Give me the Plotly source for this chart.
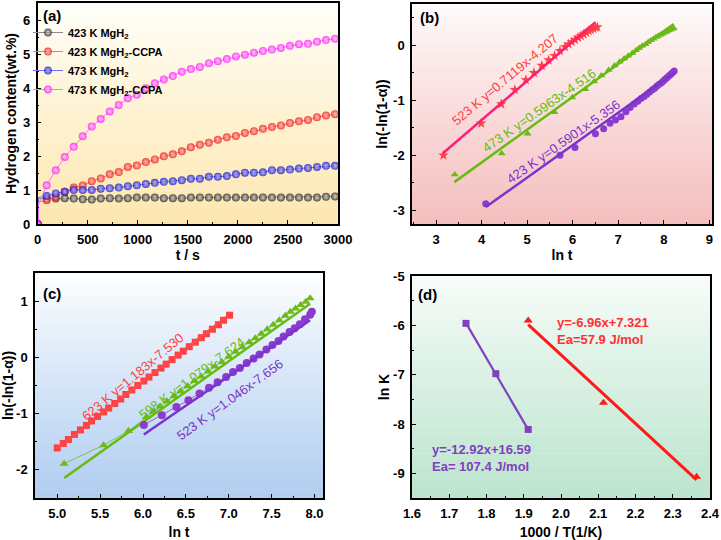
import plotly.graph_objects as go

# ---------------- DATA ----------------
# (a) hydrogen absorption curves
t_a = [0, 10, 90, 180, 270, 360, 450, 540, 630, 720, 810, 900, 990, 1080, 1170, 1260,
       1350, 1440, 1530, 1620, 1710, 1800, 1890, 1980, 2070, 2160, 2250, 2340, 2430,
       2520, 2610, 2700, 2790, 2880, 2970]
h_423 = [0, 0.76, 0.74, 0.75, 0.76, 0.75, 0.73, 0.72, 0.75, 0.76, 0.75, 0.76, 0.78, 0.78,
         0.78, 0.76, 0.76, 0.76, 0.78, 0.78, 0.78, 0.78, 0.78, 0.78, 0.78, 0.78, 0.78, 0.78,
         0.78, 0.78, 0.78, 0.78, 0.78, 0.80, 0.81]
h_423c = [0, 0.65, 0.70, 0.80, 0.95, 1.07, 1.13, 1.26, 1.34, 1.46, 1.53, 1.68, 1.72, 1.82,
          1.90, 1.99, 2.05, 2.14, 2.26, 2.33, 2.39, 2.48, 2.55, 2.59, 2.68, 2.73, 2.80, 2.85,
          2.90, 2.97, 3.02, 3.06, 3.14, 3.19, 3.23]
h_473 = [0, 0.78, 0.82, 0.90, 0.95, 1.00, 1.00, 1.00, 1.04, 1.05, 1.07, 1.11, 1.14, 1.18,
         1.21, 1.24, 1.26, 1.29, 1.33, 1.33, 1.39, 1.39, 1.41, 1.46, 1.51, 1.51, 1.52, 1.58,
         1.58, 1.60, 1.63, 1.65, 1.68, 1.71, 1.71]
h_473c = [0, 0.60, 1.14, 1.58, 1.97, 2.27, 2.58, 2.87, 3.09, 3.31, 3.50, 3.70, 3.80, 3.99,
          4.14, 4.25, 4.35, 4.48, 4.56, 4.62, 4.73, 4.79, 4.85, 4.93, 4.98, 5.04, 5.09, 5.13,
          5.18, 5.24, 5.29, 5.30, 5.36, 5.41, 5.45]
names_a = ["423 K MgH<sub>2</sub>", "423 K MgH<sub>2</sub>-CCPA",
           "473 K MgH<sub>2</sub>", "473 K MgH<sub>2</sub>-CCPA"]

# (b) JMAK plots, MgH2-CCPA
b523_x = [3.16, 3.99, 4.43, 4.73, 4.97, 5.15, 5.32, 5.47, 5.60, 5.72, 5.83, 5.91, 5.98,
          6.05, 6.12, 6.18, 6.24, 6.30, 6.35, 6.40, 6.45, 6.50, 6.54]
b523_y = [-2.00, -1.42, -1.07, -0.81, -0.63, -0.50, -0.37, -0.27, -0.19, -0.10, -0.03,
          0.02, 0.06, 0.10, 0.14, 0.17, 0.20, 0.23, 0.26, 0.28, 0.30, 0.32, 0.33]
b473_x = [3.41, 4.44, 5.01, 5.60, 5.99, 6.28, 6.47, 6.63, 6.79, 6.92, 7.03, 7.13, 7.22,
          7.31, 7.39, 7.46, 7.53, 7.60, 7.66, 7.72, 7.78, 7.83, 7.88, 7.93, 7.98, 8.03,
          8.07, 8.11, 8.15, 8.19, 8.22]
b473_y = [-2.35, -1.97, -1.61, -1.22, -0.95, -0.80, -0.66, -0.55, -0.45, -0.37, -0.30,
          -0.24, -0.19, -0.14, -0.09, -0.05, -0.01, 0.02, 0.06, 0.09, 0.12, 0.15, 0.17,
          0.19, 0.21, 0.23, 0.25, 0.27, 0.28, 0.30, 0.31]
b423_x = [4.09, 5.72, 6.05, 6.50, 6.68, 6.82, 6.94, 7.06, 7.17, 7.26, 7.35, 7.43, 7.50,
          7.57, 7.63, 7.69, 7.75, 7.80, 7.85, 7.90, 7.95, 7.99, 8.03, 8.07, 8.11, 8.15,
          8.19, 8.23]
b423_y = [-2.88, -2.00, -1.86, -1.61, -1.52, -1.42, -1.36, -1.30, -1.21, -1.13, -1.07,
          -1.02, -0.97, -0.93, -0.89, -0.85, -0.81, -0.78, -0.74, -0.71, -0.68, -0.65,
          -0.62, -0.59, -0.56, -0.53, -0.50, -0.47]
b_fit_slope = [0.7119, 0.5963, 0.5901]
b_fit_icpt = [-4.207, -4.516, -5.356]
b_fit_range = [[3.15, 6.50], [3.40, 8.22], [4.09, 8.23]]
b_labels = ["523 K y=0.7119x-4.207", "473 K y=0.5963x-4.516", "423 K y=0.5901x-5.356"]

# (c) JMAK plots, MgH2
c623_x = [5.00, 5.07, 5.13, 5.20, 5.27, 5.34, 5.40, 5.47, 5.54, 5.60, 5.67, 5.74, 5.80,
          5.87, 5.94, 6.01, 6.07, 6.14, 6.21, 6.27, 6.34, 6.41, 6.47, 6.54, 6.61, 6.68,
          6.74, 6.81, 6.88, 6.94, 7.01]
c623_y = [-1.61, -1.53, -1.46, -1.37, -1.29, -1.21, -1.13, -1.05, -0.97, -0.90, -0.82,
          -0.74, -0.66, -0.58, -0.50, -0.42, -0.35, -0.27, -0.19, -0.12, -0.04, 0.04,
          0.11, 0.19, 0.27, 0.35, 0.42, 0.50, 0.58, 0.66, 0.75]
c598_x = [5.08, 5.54, 5.83, 6.04, 6.12, 6.20, 6.28, 6.36, 6.44, 6.52, 6.60, 6.68, 6.76,
          6.84, 6.92, 7.00, 7.08, 7.16, 7.24, 7.31, 7.38, 7.45, 7.52, 7.59, 7.66, 7.72,
          7.78, 7.84, 7.90, 7.95]
c598_y = [-1.89, -1.56, -1.31, -1.06, -0.96, -0.87, -0.78, -0.69, -0.60, -0.51, -0.42,
          -0.34, -0.25, -0.16, -0.08, 0.01, 0.10, 0.18, 0.27, 0.34, 0.42, 0.50, 0.58,
          0.66, 0.74, 0.81, 0.87, 0.93, 0.99, 1.05]
c523_x = [6.01, 6.22, 6.39, 6.53, 6.66, 6.77, 6.87, 6.97, 7.05, 7.13, 7.21, 7.29, 7.36,
          7.44, 7.51, 7.58, 7.64, 7.71, 7.77, 7.83, 7.89, 7.95, 7.97]
c523_y = [-1.20, -1.03, -0.88, -0.76, -0.64, -0.54, -0.44, -0.35, -0.26, -0.19, -0.10,
          -0.02, 0.05, 0.14, 0.22, 0.29, 0.37, 0.45, 0.52, 0.59, 0.68, 0.76, 0.81]
c_fit_slope = [1.183, 1.079, 1.046]
c_fit_icpt = [-7.530, -7.624, -7.656]
c_fit_range = [[5.00, 7.00], [5.08, 7.95], [6.01, 7.95]]
c_labels = ["623 K y=1.183x-7.530", "598 K y=1.079x-7.624", "523 K y=1.046x-7.656"]

# (d) Arrhenius plots
d_mg_x = [1.745, 1.825, 1.912]
d_mg_y = [-5.96, -6.98, -8.11]
d_cc_x = [1.912, 2.114, 2.364]
d_cc_y = [-5.90, -7.57, -9.07]
d_fit_slope = [-12.92, -6.96]
d_fit_icpt = [16.59, 7.321]
d_labels = ["y=-12.92x+16.59<br>Ea= 107.4 J/mol", "y=-6.96x+7.321<br>Ea=57.9 J/mol"]

# tick labels
a_xt = [0, 500, 1000, 1500, 2000, 2500, 3000]
a_yt = [0, 1, 2, 3, 4, 5, 6]
b_xt = [3, 4, 5, 6, 7, 8, 9]
b_yt = [-3, -2, -1, 0]
c_xt = [5.0, 5.5, 6.0, 6.5, 7.0, 7.5, 8.0]
c_yt = [-2, -1, 0, 1]
d_xt = [1.6, 1.7, 1.8, 1.9, 2.0, 2.1, 2.2, 2.3, 2.4]
d_yt = [-9, -8, -7, -6, -5]

# ---------------- FIGURE ----------------
FONT = "Arial, Liberation Sans, sans-serif"
W, H = 721, 540
fig = go.Figure()


def dom_x(a, b):
    return [a / W, b / W]


def dom_y(top, bot):
    return [1 - bot / H, 1 - top / H]


def axis(rng, dom, tv, nd, minor_dt, title, standoff, anchor):
    return dict(
        range=rng, domain=dom, anchor=anchor, automargin=False,
        tickmode="array", tickvals=tv, ticktext=[f"{v:.{nd}f}" for v in tv],
        ticks="inside", ticklen=4, tickwidth=1.3, tickcolor="black",
        minor=dict(dtick=minor_dt, tick0=0, ticks="inside", ticklen=2, tickwidth=1,
                   tickcolor="black", showgrid=False),
        showline=True, linecolor="black", linewidth=1.5, mirror=True,
        showgrid=False, zeroline=False,
        tickfont=dict(family=FONT, size=13, color="black", weight="bold"),
        title=dict(text=title, standoff=standoff,
                   font=dict(family=FONT, size=14, color="black", weight="bold")),
        ticklabelstandoff=3,
    )


fig.update_layout(
    width=W, height=H, margin=dict(l=0, r=0, t=0, b=0, autoexpand=False),
    paper_bgcolor="white", plot_bgcolor="rgba(0,0,0,0)",
    xaxis=axis([0, 3000], dom_x(37.7, 338), a_xt, 0, 250, "t / s", 0, "y"),
    yaxis=axis([0, 6.5], dom_y(3, 224), a_yt, 0, 0.5, "Hydrogen content(wt.%)", 3, "x"),
    xaxis2=axis([2.47, 9.06], dom_x(412, 712), b_xt, 0, 0.5, "ln t", 4, "y2"),
    yaxis2=axis([-3.25, 0.75], dom_y(4, 224), b_yt, 0, 0.5, "ln(-ln(1-α))", 2, "x2"),
    xaxis3=axis([4.74, 8.1], dom_x(35, 323), c_xt, 1, 0.25, "ln t", 11, "y3"),
    yaxis3=axis([-2.5, 1.5], dom_y(273, 498), c_yt, 0, 0.5, "ln(-ln(1-α))", 6, "x3"),
    xaxis4=axis([1.6, 2.4], dom_x(412, 710), d_xt, 1, 0.05, "1000 / T(1/K)", 12, "y4"),
    yaxis4=axis([-9.5, -5], dom_y(276, 498), d_yt, 0, 0.5, "ln K", 0, "x4"),
    legend=dict(x=28 / W, y=1 - 18 / H, xanchor="left", yanchor="top",
                bgcolor="rgba(0,0,0,0)", itemwidth=30, tracegroupgap=0,
                font=dict(family=FONT, size=11, color="black", weight="bold")),
    showlegend=True,
)

# gradient backgrounds
grad = [
    ("x", "y", (255, 255, 250), (253, 231, 176)),
    ("x2", "y2", (255, 252, 252), (245, 190, 190)),
    ("x3", "y3", (255, 255, 255), (176, 205, 240)),
    ("x4", "y4", (248, 253, 250), (188, 228, 206)),
]
N = 40
for xr, yr, top, bot in grad:
    for i in range(N):
        f = (i + 0.5) / N  # 0 bottom -> 1 top
        w = (1 - f) ** 0.9
        c = tuple(int(round(top[k] + (bot[k] - top[k]) * w)) for k in range(3))
        fig.add_shape(type="rect", xref=f"{xr} domain", yref=f"{yr} domain",
                      x0=0, x1=1, y0=i / N, y1=(i + 1) / N + 0.002,
                      line=dict(width=0), fillcolor=f"rgb{c}", layer="below")

# (a)
a_series = [h_423, h_423c, h_473, h_473c]
a_mcol = ["#111111", "#ee0000", "#0000cc", "#ff00ff"]
a_gcol = ["#d0d0d0", "#ffc0c0", "#b0b0ff", "#ffc8ff"]
a_lcol = ["#8a8a8a", "#ff7070", "#7070ee", "#ff70ff"]
sizes = [8, 0] + [8] * (len(t_a) - 2)
for ys, mc, gc, lc, nm in zip(a_series, a_mcol, a_gcol, a_lcol, names_a):
    fig.add_trace(go.Scatter(
        x=t_a, y=ys, mode="lines+markers", name=nm, xaxis="x", yaxis="y",
        line=dict(color=lc, width=1),
        marker=dict(size=sizes, color=mc, line=dict(width=0),
                    gradient=dict(type="radial", color=gc)),
    ))

# (b)
b_sets = [(b523_x, b523_y, "#ff4040", "#ff1f78", "star", 8),
          (b473_x, b473_y, "#6dbb1a", "#66bb11", "triangle-up", 7),
          (b423_x, b423_y, "#8a3ccc", "#7a33cc", "circle", 7)]
for (xs, ys, mc, lc, sym, sz), s, c, r in zip(b_sets, b_fit_slope, b_fit_icpt, b_fit_range):
    fig.add_trace(go.Scatter(x=xs, y=ys, mode="markers", xaxis="x2", yaxis="y2",
                             marker=dict(symbol=sym, size=sz, color=mc), showlegend=False))
    fig.add_trace(go.Scatter(x=r, y=[s * v + c for v in r], mode="lines", xaxis="x2",
                             yaxis="y2", line=dict(color=lc, width=2.5), showlegend=False))

# (c)
c_sets = [(c623_x, c623_y, "#ff4040", "#ff4848", "square", 7),
          (c598_x, c598_y, "#6dbb1a", "#66bb11", "triangle-up", 8),
          (c523_x, c523_y, "#8a3ccc", "#7a33cc", "circle", 8)]
for (xs, ys, mc, lc, sym, sz), s, c, r in zip(c_sets, c_fit_slope, c_fit_icpt, c_fit_range):
    fig.add_trace(go.Scatter(x=xs, y=ys, mode="lines+markers", xaxis="x3", yaxis="y3",
                             line=dict(color=mc, width=0.8),
                             marker=dict(symbol=sym, size=sz, color=mc), showlegend=False))
    fig.add_trace(go.Scatter(x=r, y=[s * v + c for v in r], mode="lines", xaxis="x3",
                             yaxis="y3", line=dict(color=lc, width=2.5), showlegend=False))

# (d)
d_sets = [(d_mg_x, d_mg_y, "#8040c0", "square", 7, 2.2),
          (d_cc_x, d_cc_y, "#ff1a1a", "triangle-up", 8, 3)]
for (xs, ys, col, sym, sz, lw), s, c in zip(d_sets, d_fit_slope, d_fit_icpt):
    fig.add_trace(go.Scatter(x=[xs[0], xs[-1]], y=[s * xs[0] + c, s * xs[-1] + c],
                             mode="lines", xaxis="x4", yaxis="y4",
                             line=dict(color=col, width=lw), showlegend=False))
    fig.add_trace(go.Scatter(x=xs, y=ys, mode="markers", xaxis="x4", yaxis="y4",
                             marker=dict(symbol=sym, size=sz, color=col), showlegend=False))

# annotations
ann = []
for lab, x, y in [("(a)", 52, 15), ("(b)", 430, 18), ("(c)", 52, 293), ("(d)", 428, 294)]:
    ann.append(dict(text=lab, xref="paper", yref="paper", x=x / W, y=1 - y / H,
                    xanchor="center", yanchor="middle",
                    showarrow=False, font=dict(family=FONT, size=15, color="black",
                                               weight="bold")))

b_pos = [(4.51, -0.62, -40, "#ff4040"), (5.26, -1.19, -35, "#66bb11"),
         (5.80, -1.75, -35, "#7a33cc")]
for lab, (x, y, ang, col) in zip(b_labels, b_pos):
    ann.append(dict(text=lab, xref="x2", yref="y2", x=x, y=y, textangle=ang,
                    xanchor="center", yanchor="middle",
                    showarrow=False, font=dict(family=FONT, size=13, color=col)))
c_pos = [(5.886, -0.343, -40, "#ff4040"), (6.566, -0.373, -36.5, "#66bb11"),
         (7.013, -0.747, -36, "#7a33cc")]
for lab, (x, y, ang, col) in zip(c_labels, c_pos):
    ann.append(dict(text=lab, xref="x3", yref="y3", x=x, y=y, textangle=ang,
                    xanchor="center", yanchor="middle",
                    showarrow=False, font=dict(family=FONT, size=13, color=col)))
d_pos = [(1.648, -8.69, "#8040c0"), (1.985, -6.12, "#ff3030")]
for lab, (x, y, col) in zip(d_labels, d_pos):
    ann.append(dict(text=lab, xref="x4", yref="y4", x=x, y=y, xanchor="left",
                    yanchor="middle", align="left", showarrow=False,
                    font=dict(family=FONT, size=13, color=col, weight="bold")))
fig.update_layout(annotations=ann)

fig.write_html("out.html")
